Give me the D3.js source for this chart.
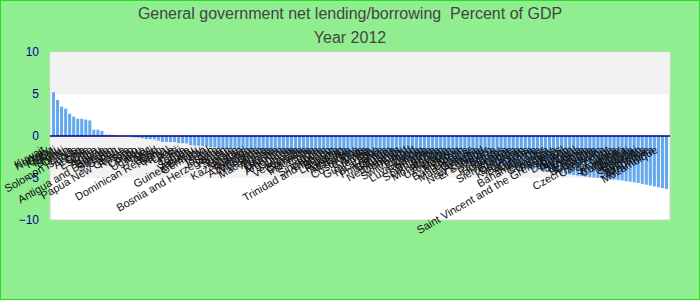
<!DOCTYPE html>
<html>
<head>
<meta charset="utf-8">
<script src="https://cdn.jsdelivr.net/npm/d3@7"></script>
<style>
  body { margin: 0; }
  svg { display: block; font-family: "Liberation Sans", Arial, sans-serif; }
</style>
</head>
<body>
<svg id="chart" width="700" height="300"></svg>
<script>
const titleLines = ['General government net lending/borrowing  Percent of GDP', 'Year 2012'];

const countries = [
  'Kuwait', 'Norway', 'Qatar', 'Kiribati', 'Tuvalu', 'Brunei', 'Oman', 'Libya', 'Solomon Islands', 'Iraq',
  'Angola', 'Chile', 'Estonia', 'Korea', 'Nauru', 'Bolivia', 'Antigua and Barbuda', 'Sweden', 'Gabon', 'Peru',
  'Papua New Guinea', 'Russia', 'Togo', 'Congo', 'Palau', 'Uganda', 'Niger', 'Mali', 'Chad', 'Dominican Republic',
  'Benin', 'Nepal', 'Laos', 'Haiti', 'Fiji', 'Tonga', 'Samoa', 'Vanuatu', 'Guinea-Bissau', 'Germany',
  'Iran', 'Israel', 'Jordan', 'Syria', 'Bosnia and Herzegovina', 'Yemen', 'Sudan', 'Kenya', 'Ghana', 'Kazakhstan',
  'Malawi', 'Rwanda', 'Azerbaijan', 'Mauritius', 'Lesotho', 'Macedonia', 'Algeria', 'Tunisia', 'Gambia', 'Morocco',
  'Argentina', 'Guinea', 'Liberia', 'Venezuela', 'Somalia', 'Comoros', 'Indonesia', 'China', 'India', 'Singapore',
  'Vietnam', 'Trinidad and Tobago', 'Bhutan', 'Lithuania', 'Pakistan', 'Australia', 'Malaysia', 'Turkey', 'Costa Rica', 'Cyprus',
  'Malta', 'Guatemala', 'Italy', 'Nicaragua', 'France', 'Philippines', 'Belgium', 'Austria', 'Netherlands', 'Denmark',
  'Ireland', 'Switzerland', 'Poland', 'Latvia', 'Luxembourg', 'Romania', 'Bulgaria', 'South Africa', 'Serbia', 'Montenegro',
  'Slovenia', 'Uzbekistan', 'Kosovo', 'Moldova', 'Bangladesh', 'Ukraine', 'Madagascar', 'Georgia', 'Armenia', 'New Zealand',
  'El Salvador', 'Mexico', 'Belize', 'Paraguay', 'Honduras', 'Jamaica', 'Sierra Leone', 'Grenada', 'Dominica', 'Kyrgyzstan',
  'Barbados', 'Guyana', 'Suriname', 'Bahamas, The', 'Ecuador', 'Colombia', 'Uruguay', 'Panama', 'Saint Vincent and the Grenadines', 'Brazil',
  'Lebanon', 'Bahrain', 'Portugal', 'Slovakia', 'Tanzania', 'Ethiopia', 'Botswana', 'Nigeria', 'Czech Republic', 'Cameroon',
  'Egypt', 'Cuba', 'Sri Lanka', 'Myanmar', 'Cambodia', 'Djibouti', 'Maldives', 'Eswatini', 'Tajikistan', 'Seychelles',
  'Zimbabwe', 'Mauritania', 'Mozambique'
];

const values = [
  5.2, 4.3, 3.5, 3.25, 2.65, 2.3, 2.05, 2.05, 1.95, 1.85,
  0.75, 0.75, 0.6, 0.15, 0.15, 0.12, 0.02, 0.0, -0.02, -0.05,
  -0.17, -0.18, -0.27, -0.37, -0.38, -0.4, -0.56, -0.7, -0.71, -0.72,
  -0.73, -0.85, -0.86, -0.88, -1.1, -1.15, -1.16, -1.2, -1.22, -1.33,
  -1.36, -1.48, -1.5, -1.52, -1.55, -1.58, -1.6, -1.63, -1.67, -1.7,
  -1.72, -1.76, -1.8, -1.82, -1.85, -1.88, -1.9, -1.93, -1.95, -1.98,
  -2.0, -2.02, -2.05, -2.08, -2.1, -2.12, -2.15, -2.17, -2.2, -2.22,
  -2.25, -2.27, -2.3, -2.32, -2.35, -2.38, -2.4, -2.42, -2.45, -2.48,
  -2.5, -2.52, -2.55, -2.58, -2.6, -2.63, -2.66, -2.7, -2.72, -2.75,
  -2.78, -2.8, -2.84, -2.87, -2.9, -2.93, -2.96, -3.0, -3.03, -3.06,
  -3.1, -3.13, -3.17, -3.2, -3.24, -3.28, -3.32, -3.36, -3.4, -3.45,
  -3.5, -3.55, -3.6, -3.65, -3.7, -3.75, -3.8, -3.86, -3.92, -4.0,
  -4.05, -4.1, -4.18, -4.25, -4.3, -4.38, -4.45, -4.52, -4.6, -4.66,
  -4.72, -4.78, -4.84, -4.9, -4.95, -5.0, -5.05, -5.1, -5.15, -5.2,
  -5.25, -5.3, -5.38, -5.45, -5.52, -5.6, -5.7, -5.8, -5.9, -6.0,
  -6.1, -6.2, -6.3
];

const yTicks = [10, 5, 0, -5, -10];
const bands = [[5, 10], [-5, 0]];

const width = 700, height = 300;
const margin = { top: 52, right: 30, bottom: 80, left: 50 };

const svg = d3.select('#chart');

// page background and border
svg.append('rect')
  .attr('x', 0.5).attr('y', 0.5)
  .attr('width', width - 1).attr('height', height - 1)
  .attr('fill', '#90ee90')
  .attr('stroke', '#22e022');

const x = d3.scaleBand()
  .domain(countries)
  .range([margin.left, width - margin.right])
  .paddingInner(0.25)
  .paddingOuter(0.5);

const y = d3.scaleLinear()
  .domain([-10, 10])
  .range([height - margin.bottom, margin.top]);

// plot area
svg.append('rect')
  .attr('x', margin.left).attr('y', margin.top)
  .attr('width', width - margin.left - margin.right)
  .attr('height', height - margin.top - margin.bottom)
  .attr('fill', '#fff')
  .attr('stroke', '#d0d0d0');

svg.append('g').selectAll('rect')
  .data(bands)
  .join('rect')
  .attr('x', margin.left + 0.5)
  .attr('width', width - margin.left - margin.right - 1)
  .attr('y', d => y(d[1]))
  .attr('height', d => y(d[0]) - y(d[1]))
  .attr('fill', '#f2f2f2');

// title
svg.append('g').selectAll('text')
  .data(titleLines)
  .join('text')
  .attr('x', width / 2)
  .attr('y', (d, i) => 19 + i * 24)
  .attr('text-anchor', 'middle')
  .attr('font-size', 16)
  .attr('fill', '#444')
  .style('white-space', 'pre')
  .text(d => d);

// y axis labels
const yAxis = svg.append('g')
  .attr('transform', `translate(${margin.left - 10},0)`)
  .call(d3.axisLeft(y).tickValues(yTicks).tickSize(0).tickPadding(1));
yAxis.select('.domain').remove();
yAxis.selectAll('text')
  .attr('font-size', 12)
  .attr('font-family', '"Liberation Sans", Arial, sans-serif')
  .attr('fill', '#000099');

// bars
svg.append('g').selectAll('rect')
  .data(values)
  .join('rect')
  .attr('x', (d, i) => x(countries[i]))
  .attr('width', x.bandwidth())
  .attr('y', d => y(Math.max(0, d)))
  .attr('height', d => Math.abs(y(d) - y(0)))
  .attr('fill', '#64a8f0');

// zero line
svg.append('line')
  .attr('x1', margin.left).attr('x2', width - margin.right)
  .attr('y1', y(0)).attr('y2', y(0))
  .attr('stroke', '#000080')
  .attr('stroke-width', 1.5);

// category labels
svg.append('g').selectAll('text')
  .data(countries)
  .join('text')
  .attr('transform', d => `translate(${x(d) + x.bandwidth() / 2 - 8},152) rotate(-30)`)
  .attr('text-anchor', 'end')
  .attr('font-size', 11)
  .attr('fill', '#111')
  .text(d => d);
</script>
</body>
</html>
